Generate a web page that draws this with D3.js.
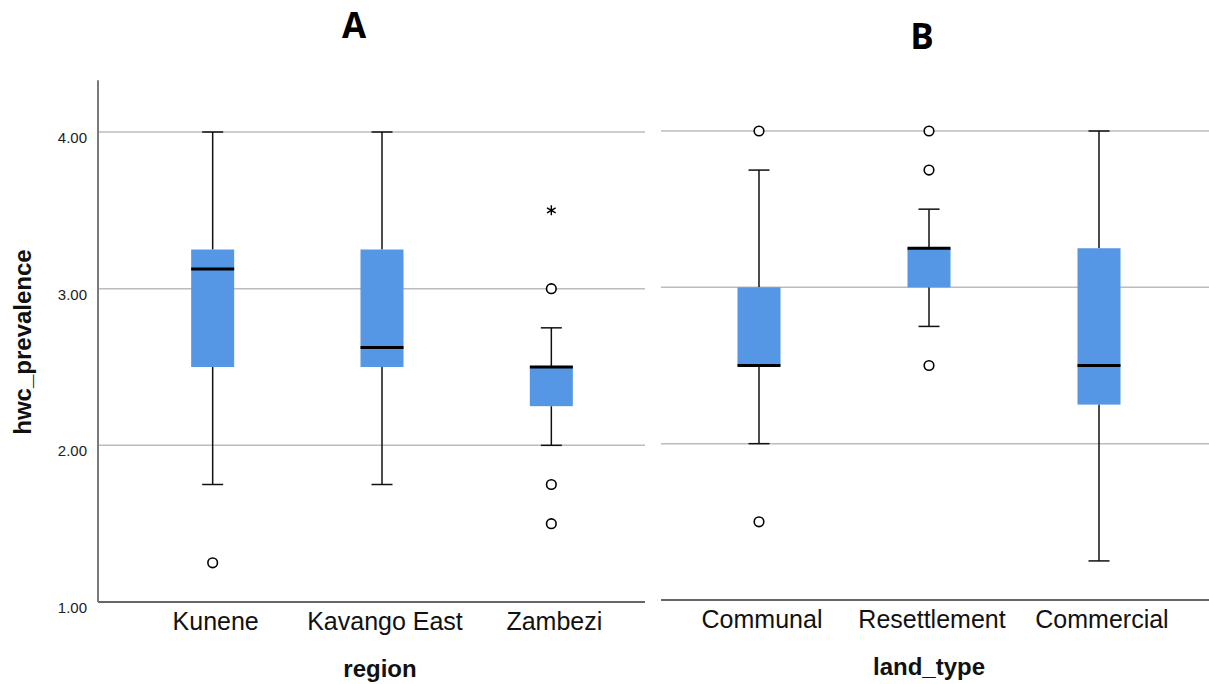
<!DOCTYPE html>
<html><head><meta charset="utf-8">
<script src="https://cdn.jsdelivr.net/npm/d3@7"></script>
<style>body{margin:0;background:#fff}svg{display:block}</style>
</head><body>
<svg id="chart" width="1209" height="684"></svg>
<script>
// ---- data ----
const regions = ["Kunene", "Kavango East", "Zambezi"];
const regionLow = [1.75, 1.75, 2.0];
const regionQ1 = [2.5, 2.5, 2.25];
const regionMedian = [3.125, 2.625, 2.5];
const regionQ3 = [3.25, 3.25, 2.5];
const regionHigh = [4.0, 4.0, 2.75];
const regionOutliers = [[1.25], [], [3.0, 1.75, 1.5]];
const regionExtremes = [[], [], [3.5]];

const landTypes = ["Communal", "Resettlement", "Commercial"];
const landLow = [2.0, 2.75, 1.25];
const landQ1 = [2.5, 3.0, 2.25];
const landMedian = [2.5, 3.25, 2.5];
const landQ3 = [3.0, 3.25, 3.25];
const landHigh = [3.75, 3.5, 4.0];
const landOutliers = [[4.0, 1.5], [4.0, 3.75, 2.5], []];
const landExtremes = [[], [], []];

const yTicks = [1, 2, 3, 4];

const svg = d3.select("#chart");
const boxColor = "#5596e5";
const gridColor = "#bcbcbc";

function panel(cfg) {
  const g = svg.append("g");
  const y = d3.scaleLinear().domain([1, 4]).range([cfg.bottom, cfg.top4]);
  const x = d3.scalePoint().domain(cfg.cats).range(cfg.xRange).padding(0.5);

  // grid
  g.selectAll("line.grid").data(yTicks.slice(1)).join("line")
    .attr("x1", cfg.gx0).attr("x2", cfg.gx1)
    .attr("y1", d => y(d)).attr("y2", d => y(d))
    .attr("stroke", gridColor).attr("stroke-width", 1.5);

  // baseline
  g.append("line").attr("x1", cfg.gx0).attr("x2", cfg.gx1)
    .attr("y1", y(1)).attr("y2", y(1)).attr("stroke", "#333").attr("stroke-width", 1.5);

  if (cfg.yAxis) {
    g.append("line").attr("x1", cfg.gx0).attr("x2", cfg.gx0)
      .attr("y1", y(4.33)).attr("y2", y(1)).attr("stroke", "#7a7a7a").attr("stroke-width", 2);
    g.selectAll("text.tick").data(yTicks).join("text")
      .attr("x", cfg.gx0 - 11).attr("y", d => y(d) + 11)
      .attr("text-anchor", "end").attr("font-family", "Liberation Sans, Arial, sans-serif")
      .attr("font-size", 15).attr("fill", "#222")
      .text(d => d3.format(".2f")(d));
  }

  const bw = 43, cw = 21;
  const idx = cfg.cats.map((c, i) => i);
  // whiskers
  idx.forEach(i => {
    const cx = x(cfg.cats[i]);
    g.append("line").attr("x1", cx).attr("x2", cx).attr("y1", y(cfg.high[i])).attr("y2", y(cfg.q3[i]))
      .attr("stroke", "#111").attr("stroke-width", 1.5);
    g.append("line").attr("x1", cx).attr("x2", cx).attr("y1", y(cfg.q1[i])).attr("y2", y(cfg.low[i]))
      .attr("stroke", "#111").attr("stroke-width", 1.5);
    g.append("line").attr("x1", cx - cw / 2).attr("x2", cx + cw / 2).attr("y1", y(cfg.high[i])).attr("y2", y(cfg.high[i]))
      .attr("stroke", "#111").attr("stroke-width", 1.5);
    g.append("line").attr("x1", cx - cw / 2).attr("x2", cx + cw / 2).attr("y1", y(cfg.low[i])).attr("y2", y(cfg.low[i]))
      .attr("stroke", "#111").attr("stroke-width", 1.5);
  });
  // boxes
  g.selectAll("rect.box").data(idx).join("rect")
    .attr("x", i => x(cfg.cats[i]) - bw / 2).attr("width", bw)
    .attr("y", i => y(cfg.q3[i])).attr("height", i => Math.max(0, y(cfg.q1[i]) - y(cfg.q3[i])))
    .attr("fill", boxColor);
  // medians
  g.selectAll("line.med").data(idx).join("line")
    .attr("x1", i => x(cfg.cats[i]) - bw / 2).attr("x2", i => x(cfg.cats[i]) + bw / 2)
    .attr("y1", i => y(cfg.med[i])).attr("y2", i => y(cfg.med[i]))
    .attr("stroke", "#000").attr("stroke-width", 3);
  // outliers
  idx.forEach(i => {
    const cx = x(cfg.cats[i]);
    cfg.out[i].forEach(v => {
      g.append("circle").attr("cx", cx).attr("cy", y(v)).attr("r", 4.8)
        .attr("fill", "#fff").attr("stroke", "#000").attr("stroke-width", 1.6);
    });
    cfg.ext[i].forEach(v => {
      g.append("path").attr("d", d3.symbol(d3.symbolAsterisk, 70)())
        .attr("transform", `translate(${cx},${y(v)})`)
        .attr("fill", "none").attr("stroke", "#000").attr("stroke-width", 1.4);
    });
  });

  // category labels
  g.selectAll("text.cat").data(cfg.cats).join("text")
    .attr("x", d => x(d) + 3).attr("y", cfg.catY)
    .attr("text-anchor", "middle").attr("font-family", "Liberation Sans, Arial, sans-serif")
    .attr("font-size", 25).attr("fill", "#111").text(d => d);

  // axis title
  g.append("text").attr("x", cfg.titleX).attr("y", cfg.titleY)
    .attr("text-anchor", "middle").attr("font-family", "Liberation Sans, Arial, sans-serif")
    .attr("font-size", 24).attr("font-weight", "bold").attr("fill", "#111").text(cfg.axisTitle);

  // panel letter
  g.append("text").attr("x", cfg.letterX).attr("y", cfg.letterY)
    .attr("text-anchor", "middle").attr("font-family", "Open Sans, sans-serif")
    .attr("font-size", 35).attr("font-weight", "bold").attr("fill", "#000").text(cfg.letter);
}

panel({
  cats: regions, low: regionLow, q1: regionQ1, med: regionMedian, q3: regionQ3, high: regionHigh,
  out: regionOutliers, ext: regionExtremes,
  bottom: 602, top4: 132, xRange: [128, 636], gx0: 98, gx1: 645, yAxis: true,
  catY: 630, titleX: 380, titleY: 677, axisTitle: "region",
  letter: "A", letterX: 354, letterY: 38
});
panel({
  cats: landTypes, low: landLow, q1: landQ1, med: landMedian, q3: landQ3, high: landHigh,
  out: landOutliers, ext: landExtremes,
  bottom: 600, top4: 131, xRange: [674, 1184], gx0: 661, gx1: 1209, yAxis: false,
  catY: 628, titleX: 929, titleY: 675, axisTitle: "land_type",
  letter: "B", letterX: 922, letterY: 49
});

// y axis title
svg.append("text").attr("transform", "translate(31,342) rotate(-90)")
  .attr("text-anchor", "middle").attr("font-family", "Liberation Sans, Arial, sans-serif")
  .attr("font-size", 24).attr("font-weight", "bold").attr("fill", "#111").text("hwc_prevalence");
</script>
</body></html>
